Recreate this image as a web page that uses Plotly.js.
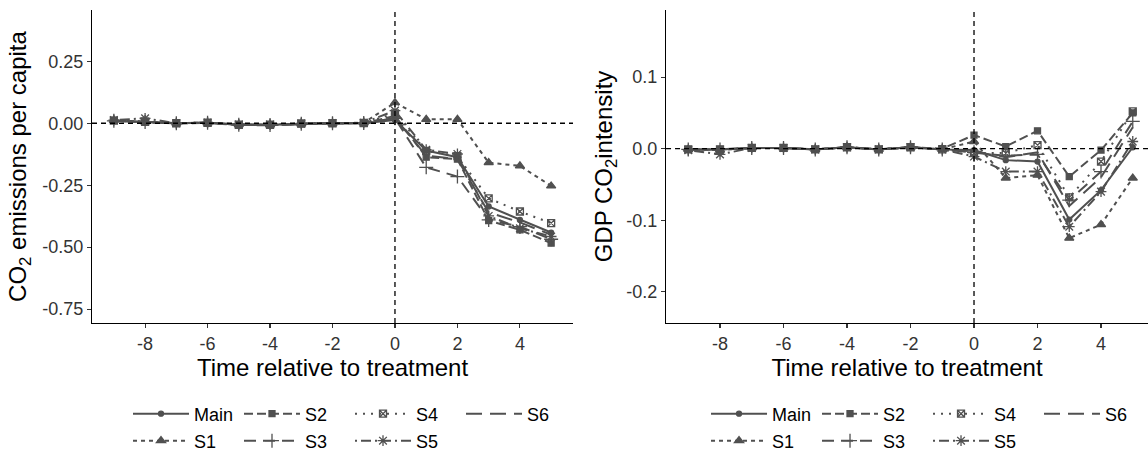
<!DOCTYPE html>
<html>
<head>
<meta charset="utf-8">
<script src="https://cdn.plot.ly/plotly-3.0.1.min.js"></script>
<style>html,body{margin:0;padding:0;background:#fff;}</style>
</head>
<body>
<div id="chart" style="width:1148px;height:451px;"></div>
<script>
// ---- data ----
const years = [-9,-8,-7,-6,-5,-4,-3,-2,-1,0,1,2,3,4,5];
const seriesNames = ["Main","S1","S2","S3","S4","S5","S6"];

// CO2 emissions per capita (left panel)
const co2Main = [0.010, 0.005, 0.000, 0.002, -0.006, -0.006, -0.002, 0.000, 0.000, 0.013, -0.110, -0.137, -0.336, -0.390, -0.441];
const co2S1   = [0.012, 0.006, 0.001, 0.002, -0.005, -0.006, -0.002, 0.000, 0.002, 0.083, 0.016, 0.016, -0.159, -0.172, -0.253];
const co2S2   = [0.012, 0.004, 0.000, 0.001, -0.007, -0.008, -0.002, 0.000, 0.000, 0.030, -0.137, -0.145, -0.393, -0.430, -0.484];
const co2S3   = [0.010, 0.005, 0.000, 0.002, -0.006, -0.007, -0.002, 0.000, 0.001, 0.020, -0.178, -0.215, -0.390, -0.417, -0.468];
const co2S4   = [0.011, 0.006, 0.000, 0.002, -0.006, -0.006, -0.001, 0.000, 0.001, 0.040, -0.112, -0.133, -0.303, -0.356, -0.403];
const co2S5   = [0.013, 0.020, 0.000, 0.003, -0.005, -0.005, -0.001, 0.001, 0.002, 0.051, -0.107, -0.124, -0.374, -0.424, -0.457];
const co2S6   = [0.010, 0.005, 0.000, 0.002, -0.006, -0.007, -0.002, 0.000, 0.000, 0.020, -0.130, -0.145, -0.360, -0.400, -0.450];

// GDP CO2 intensity (right panel)
const gdpMain = [-0.001, -0.001, 0.001, 0.001, -0.001, 0.002, -0.001, 0.002, -0.001, -0.002, -0.016, -0.018, -0.099, -0.058, 0.002];
const gdpS1   = [-0.001, -0.002, 0.001, 0.001, -0.001, 0.002, -0.001, 0.002, -0.001, 0.010, -0.041, -0.037, -0.125, -0.106, -0.041];
const gdpS2   = [-0.001, -0.001, 0.001, 0.001, -0.001, 0.002, -0.001, 0.002, 0.000, 0.019, 0.003, 0.025, -0.039, -0.002, 0.050];
const gdpS3   = [-0.001, -0.001, 0.001, 0.001, -0.001, 0.002, -0.001, 0.002, -0.001, -0.005, -0.010, -0.008, -0.072, -0.032, 0.038];
const gdpS4   = [-0.001, -0.001, 0.001, 0.001, -0.001, 0.002, -0.001, 0.002, -0.001, -0.006, -0.006, 0.005, -0.068, -0.018, 0.052];
const gdpS5   = [-0.002, -0.008, 0.001, 0.001, -0.001, 0.002, -0.001, 0.002, -0.001, -0.011, -0.032, -0.032, -0.109, -0.060, 0.010];
const gdpS6   = [-0.001, -0.001, 0.001, 0.001, -0.001, 0.002, -0.001, 0.002, -0.001, -0.004, -0.012, -0.005, -0.080, -0.040, 0.030];

// tick labels
const xTicks = [-8,-6,-4,-2,0,2,4];
const xTickText = ["-8","-6","-4","-2","0","2","4"];
const yTicksLeft = [-0.75,-0.5,-0.25,0,0.25];
const yTickTextLeft = ["-0.75","-0.50","-0.25","0.00","0.25"];
const yTicksRight = [-0.2,-0.1,0,0.1];
const yTickTextRight = ["-0.2","-0.1","0.0","0.1"];

// ---- styles ----
const grey = "#505050";
const styles = {
  Main: {dash:"solid", symbol:"circle", size:5, mode:"lines+markers"},
  S1:   {dash:"4px,4px", symbol:"triangle-up", size:8, mode:"lines+markers"},
  S2:   {dash:"9px,4px", symbol:"square", size:6, mode:"lines+markers"},
  S3:   {dash:"12px,7px", symbol:"cross-thin-open", size:10, mode:"lines+markers"},
  S4:   {dash:"2px,6px", symbol:"square-x-open", size:7, mode:"lines+markers"},
  S5:   {dash:"2px,4px,10px,4px", symbol:"asterisk-open", size:9, mode:"lines+markers"},
  S6:   {dash:"16px,8px", symbol:"circle", size:1, mode:"lines"}
};
const row1 = ["Main","S2","S4","S6"];
const leftData = {Main:co2Main,S1:co2S1,S2:co2S2,S3:co2S3,S4:co2S4,S5:co2S5,S6:co2S6};
const rightData = {Main:gdpMain,S1:gdpS1,S2:gdpS2,S3:gdpS3,S4:gdpS4,S5:gdpS5,S6:gdpS6};

function makeTrace(name, ys, xa, ya, legendId, rank){
  const st = styles[name];
  return {
    x: years, y: ys, name: name, xaxis: xa, yaxis: ya,
    type: "scatter", mode: st.mode, legend: legendId, legendrank: rank,
    line: {color: grey, width: 2, dash: st.dash},
    marker: {symbol: st.symbol, size: st.size, color: grey, line: {color: grey, width: 1.3}},
    hoverinfo: "x+y+name"
  };
}
const traces = [];
seriesNames.forEach((n,i) => {
  const r1 = row1.includes(n);
  traces.push(makeTrace(n, leftData[n], "x", "y", r1 ? "legend" : "legend2", i+1));
});
seriesNames.forEach((n,i) => {
  const r1 = row1.includes(n);
  traces.push(makeTrace(n, rightData[n], "x2", "y2", r1 ? "legend3" : "legend4", i+1));
});

const font = "Arial, 'Liberation Sans', sans-serif";
const axisBase = {
  showline: true, linecolor: "#000", linewidth: 1.1, mirror: false,
  ticks: "outside", ticklen: 4, tickwidth: 1.1, tickcolor: "#333",
  tickfont: {family: font, size: 18, color: "#333"},
  showgrid: false, zeroline: false, fixedrange: true, automargin: true
};
const xTitle = {text: "Time relative to treatment", font: {family: font, size: 24, color: "#000"}, standoff: 0};

const legendBase = {
  orientation: "h", xanchor: "left", yanchor: "middle",
  xref: "container", yref: "container",
  entrywidth: 40, entrywidthmode: "pixels", itemwidth: 56,
  font: {family: font, size: 18, color: "#000"}, bgcolor: "rgba(0,0,0,0)",
  traceorder: "normal", tracegroupgap: 0
};

const layout = {
  width: 1148, height: 451,
  margin: {l: 92, r: 0, t: 10, b: 128, autoexpand: false},
  paper_bgcolor: "#fff", plot_bgcolor: "#fff",
  showlegend: true,
  xaxis: Object.assign({}, axisBase, {domain: [0, 0.4555], range: [-9.7, 5.7], tickvals: xTicks, ticktext: xTickText, anchor: "y", title: xTitle}),
  yaxis: Object.assign({}, axisBase, {domain: [0, 1], range: [-0.806, 0.457], tickvals: yTicksLeft, ticktext: yTickTextLeft, anchor: "x",
    title: {text: "CO<sub>2</sub> emissions per capita", font: {family: font, size: 24, color: "#000"}, standoff: 8}}),
  xaxis2: Object.assign({}, axisBase, {domain: [0.5436, 1], range: [-9.7, 5.48], tickvals: xTicks, ticktext: xTickText, anchor: "y2", title: xTitle}),
  yaxis2: Object.assign({}, axisBase, {domain: [0, 1], range: [-0.2435, 0.1937], tickvals: yTicksRight, ticktext: yTickTextRight, anchor: "x2",
    title: {text: "GDP CO<sub>2</sub>intensity", font: {family: font, size: 24, color: "#000"}, standoff: 6}}),
  legend:  Object.assign({}, legendBase, {x: 0.1115, y: 0.0820}),
  legend2: Object.assign({}, legendBase, {x: 0.1115, y: 0.0222}),
  legend3: Object.assign({}, legendBase, {x: 0.6150, y: 0.0820}),
  legend4: Object.assign({}, legendBase, {x: 0.6150, y: 0.0222}),
  shapes: [
    {type:"line", xref:"x", yref:"y domain", x0:0, x1:0, y0:0, y1:1, line:{color:"#000", width:1.3, dash:"5px,4px"}},
    {type:"line", xref:"x domain", yref:"y", x0:0, x1:1, y0:0, y1:0, line:{color:"#000", width:1.3, dash:"5px,4px"}},
    {type:"line", xref:"x2", yref:"y2 domain", x0:0, x1:0, y0:0, y1:1, line:{color:"#000", width:1.3, dash:"5px,4px"}},
    {type:"line", xref:"x2 domain", yref:"y2", x0:0, x1:1, y0:0, y1:0, line:{color:"#000", width:1.3, dash:"5px,4px"}}
  ]
};

Plotly.newPlot("chart", traces, layout, {displayModeBar: false, staticPlot: true});
</script>
</body>
</html>
